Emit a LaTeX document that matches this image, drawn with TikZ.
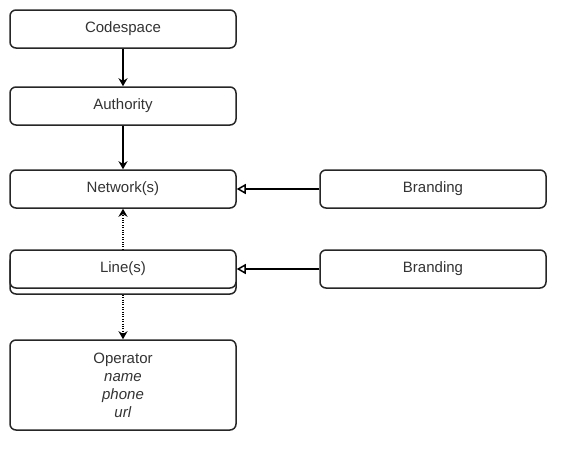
\documentclass[tikz,border=0pt]{standalone}
\usepackage{fontspec}
\setmainfont{Liberation Sans}
\usetikzlibrary{arrows.meta}
\tikzset{
  box/.style={draw=black!85, line width=1.5pt, rounded corners=6pt, fill=white, text=black!80,
    minimum width=226pt, minimum height=38pt, inner sep=0pt, align=center},
  link/.style={line width=1.5pt, -{Stealth[length=8pt,width=9pt]}},
  brandlink/.style={line width=1.5pt, -{Triangle[open,length=9pt,width=10pt]}},
}
\begin{document}
\begin{tikzpicture}[x=1pt, y=-1pt, font=\fontsize{15}{18}\selectfont, line join=round]
					\useasboundingbox (0,0) rectangle (571,450);
					%%%%%%%%%%%%%%%%%%%%%%%%%%%%%%%%%
					\node[box] (codespace) at (123,29) {Codespace};
					\node[box] (authority) at (123,106) {Authority};
					\node[box] (network) at (123,189) {Network(s)};
					\node[box] (lineback) at (123,275) {};
					\node[box] (line) at (123,269) {Line(s)};
					\node[box, minimum height=90pt] (operator) at (123,385) {Operator\\ \textit{name}\\ \textit{phone}\\ \textit{url}};
					\node[box] (brandnet) at (433,189) {Branding};
					\node[box] (brandline) at (433,269) {Branding};
					%%%%%%%%%%%%%%%%%%%%%%%%%%%%%%%%%
					\draw[link] (codespace) -- (authority);
					\draw[link] (authority) -- (network);
					\begin{scope}[dotted]
						\draw[link] (line) -- (network);
						\draw[link] (lineback) -- (operator);
					\end{scope}
					\draw[brandlink] (brandnet) -- (network);
					\draw[brandlink] (brandline) -- (line);
					%%%%%%%%%%%%%%%%%%%%%%%%%%%%%%%%%
\end{tikzpicture}
\end{document}
